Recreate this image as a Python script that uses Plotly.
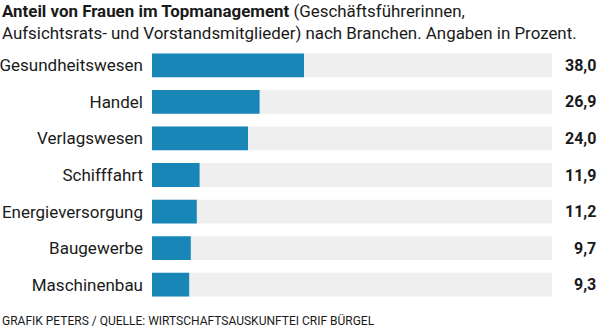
import plotly.graph_objects as go

# Branchen und Frauenanteil im Topmanagement (Prozent)
branchen = ["Gesundheitswesen", "Handel", "Verlagswesen", "Schifffahrt",
            "Energieversorgung", "Baugewerbe", "Maschinenbau"]
anteile = [38.0, 26.9, 24.0, 11.9, 11.2, 9.7, 9.3]
skala_max = 100

FONT = "Roboto, sans-serif"
TEXT = "#1a1a1a"
BLAU = "#1986b8"
GRAU = "#efefef"

fig = go.Figure()

# graue Hintergrundspur bis 100 %
fig.add_trace(go.Bar(
    y=branchen, x=[skala_max] * len(branchen), orientation="h",
    marker=dict(color=GRAU, line=dict(width=0)), width=0.65,
    hoverinfo="skip", showlegend=False,
))
# eigentliche Werte
fig.add_trace(go.Bar(
    y=branchen, x=anteile, orientation="h",
    marker=dict(color=BLAU, line=dict(width=0)), width=0.65,
    showlegend=False,
))

# Werte rechts als fette Beschriftung
for b, v in zip(branchen, anteile):
    fig.add_annotation(
        x=1.0, xref="paper", xshift=46, y=b, yref="y",
        text=f"<b>{v:.1f}</b>".replace(".", ","),
        showarrow=False, xanchor="right", yanchor="middle",
        font=dict(family=FONT, size=16, color=TEXT),
    )

# Titel über zwei Zeilen
fig.add_annotation(
    x=0, xref="paper", xshift=-152, y=1, yref="paper", yshift=48,
    text="<b>Anteil von Frauen im Topmanagement</b> (Geschäftsführerinnen,"
         "<br>Aufsichtsrats- und Vorstandsmitglieder) nach Branchen. Angaben in Prozent.",
    showarrow=False, xanchor="left", yanchor="top", align="left",
    font=dict(family=FONT, size=16.9, color=TEXT),
)

# Quellenangabe
fig.add_annotation(
    x=0, xref="paper", xshift=-152, y=0, yref="paper", yshift=-8,
    text="GRAFIK PETERS / QUELLE: WIRTSCHAFTSAUSKUNFTEI CRIF BÜRGEL",
    showarrow=False, xanchor="left", yanchor="top", align="left",
    font=dict(family=FONT, size=12, color=TEXT),
)

fig.update_layout(
    width=600, height=327,
    margin=dict(l=152, r=48, t=47, b=24),
    paper_bgcolor="white", plot_bgcolor="white",
    barmode="overlay", bargap=0.35,
    xaxis=dict(range=[0, skala_max], visible=False, fixedrange=True,
               automargin=False),
    yaxis=dict(autorange="reversed", showgrid=False, zeroline=False,
               showline=False, ticks="", ticklabelstandoff=8,
               automargin=False,
               tickfont=dict(family=FONT, size=17, color=TEXT)),
    font=dict(family=FONT, color=TEXT),
)

fig.write_html("out.html")
